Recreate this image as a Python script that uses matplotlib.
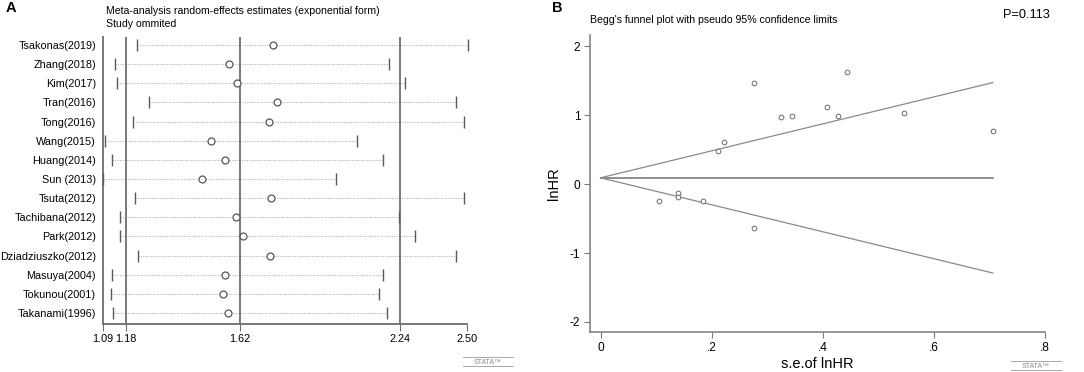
import matplotlib
matplotlib.use("Agg")
import matplotlib.pyplot as plt
import numpy as np

plt.rcParams['font.family'] = ['Liberation Sans', 'DejaVu Sans']

# panel A: leave-one-out sensitivity analysis (HR, 95% CI)
studies = ["Tsakonas(2019)", "Zhang(2018)", "Kim(2017)", "Tran(2016)", "Tong(2016)",
           "Wang(2015)", "Huang(2014)", "Sun (2013)", "Tsuta(2012)", "Tachibana(2012)",
           "Park(2012)", "Dziadziuszko(2012)", "Masuya(2004)", "Tokunou(2001)", "Takanami(1996)"]
est = [1.750, 1.580, 1.609, 1.764, 1.733, 1.509, 1.563, 1.473, 1.741, 1.607,
       1.631, 1.737, 1.564, 1.555, 1.573]
lower = [1.223, 1.137, 1.146, 1.267, 1.207, 1.099, 1.124, 1.090, 1.215, 1.155,
         1.155, 1.226, 1.126, 1.121, 1.130]
upper = [2.502, 2.199, 2.261, 2.458, 2.487, 2.074, 2.173, 1.992, 2.490, 2.237,
         2.299, 2.459, 2.173, 2.159, 2.190]
ref_lines = [1.18, 1.62, 2.24]
xticks_a = [1.09, 1.18, 1.62, 2.24, 2.50]

# panel B: Begg's funnel plot
se = [0.211, 0.223, 0.277, 0.325, 0.345, 0.407, 0.428, 0.444, 0.546, 0.706,
      0.106, 0.140, 0.140, 0.185, 0.277]
lnhr = [0.473, 0.603, 1.458, 0.965, 0.990, 1.120, 0.985, 1.617, 1.023, 0.772,
        -0.242, -0.126, -0.194, -0.242, -0.643]
pooled = 0.09
se_max = 0.706
funnel_upper = [0.09, 1.47]
funnel_lower = [0.09, -1.29]

W, H = 1084, 372
fig = plt.figure(figsize=(W / 100, H / 100), dpi=100)

def px_axes(x0, y0, x1, y1):
    return fig.add_axes([x0 / W, 1 - y1 / H, (x1 - x0) / W, (y1 - y0) / H])

line_c = "#6e6e6e"

# ---------- A ----------
ax = px_axes(103, 37, 467, 324)
n = len(studies)
y = np.arange(n)
for i in range(n):
    ax.plot([lower[i], upper[i]], [y[i], y[i]], ls=(0, (1, 1.2)), color="#b5b5b5", lw=0.8,
            zorder=1, clip_on=False)
ax.plot(lower, y, ls="none", marker="|", ms=8, mew=1.0, color="#5a5a5a", zorder=3, clip_on=False)
ax.plot(upper, y, ls="none", marker="|", ms=8, mew=1.0, color="#5a5a5a", zorder=3, clip_on=False)
for v in ref_lines:
    ax.axvline(v, color=line_c, lw=1.3, zorder=2)
ax.plot(est, y, ls="none", marker="o", ms=5, mfc="white", mec="#555555", mew=0.9, zorder=4)
ax.set_xlim(1.09, 2.50)
ax.set_ylim(n - 1 + 0.575, -0.418)
ax.set_xticks(xticks_a)
ax.set_xticklabels(["1.09", "1.18", "1.62", "2.24", "2.50"])
ax.set_yticks(y)
ax.set_yticklabels(studies)
for s in ["top", "right"]:
    ax.spines[s].set_visible(False)
for s in ["left", "bottom"]:
    ax.spines[s].set_color(line_c)
    ax.spines[s].set_linewidth(1.3)
ax.tick_params(axis="x", length=5, color=line_c, labelsize=7.8, pad=2)
ax.tick_params(axis="y", length=0, labelsize=7.8, pad=5)

fig.text(6 / W, 1 - 8 / H, "A", fontsize=10.5, fontweight="bold", va="center")
fig.text(106 / W, 1 - 11 / H, "Meta-analysis random-effects estimates (exponential form)",
         fontsize=7.6, va="center")
fig.text(106 / W, 1 - 24 / H, "Study ommited", fontsize=7.6, va="center")

# ---------- B ----------
bx = px_axes(590, 35, 1045, 332)
bx.plot([0, se_max], [pooled, pooled], color="#707070", lw=1.1)
bx.plot([0, se_max], funnel_upper, color="#8a8a8a", lw=0.9)
bx.plot([0, se_max], funnel_lower, color="#8a8a8a", lw=0.9)
bx.plot(se, lnhr, ls="none", marker="o", ms=3.4, mfc="white", mec="#6a6a6a", mew=0.7, zorder=3)
bx.set_xlim(-0.019, 0.80)
bx.set_ylim(-2.145, 2.16)
bx.set_xticks([0, 0.2, 0.4, 0.6, 0.8])
bx.set_xticklabels(["0", ".2", ".4", ".6", ".8"])
bx.set_yticks([-2, -1, 0, 1, 2])
bx.set_yticklabels(["-2", "-1", "0", "1", "2"])
for s in ["top", "right"]:
    bx.spines[s].set_visible(False)
for s in ["left", "bottom"]:
    bx.spines[s].set_color("#7a7a7a")
    bx.spines[s].set_linewidth(1.1)
bx.tick_params(length=4, color="#7a7a7a", labelsize=8.6, pad=3)
bx.set_xlabel("s.e.of lnHR", fontsize=10.5, labelpad=2)
bx.set_ylabel("lnHR", fontsize=10.5, labelpad=6)

fig.text(552 / W, 1 - 8 / H, "B", fontsize=10.5, fontweight="bold", va="center")
fig.text(590 / W, 1 - 20 / H, "Begg's funnel plot with pseudo 95% confidence limits",
         fontsize=7.6, va="center")
fig.text(1003 / W, 1 - 15 / H, "P=0.113", fontsize=9.2, va="center")

# stata marks
for x0, yc in [(463, 362), (1011, 366)]:
    fig.text((x0 + 25) / W, 1 - yc / H, "STATA\u2122", fontsize=5, color="#888888",
             ha="center", va="center")
    fig.add_artist(plt.Line2D([x0 / W, (x0 + 50) / W], [1 - (yc - 5) / H] * 2,
                              color="#999999", lw=0.6))
    fig.add_artist(plt.Line2D([x0 / W, (x0 + 50) / W], [1 - (yc + 4) / H] * 2,
                              color="#999999", lw=0.6))

fig.savefig("out.png", dpi=100, facecolor="white")
